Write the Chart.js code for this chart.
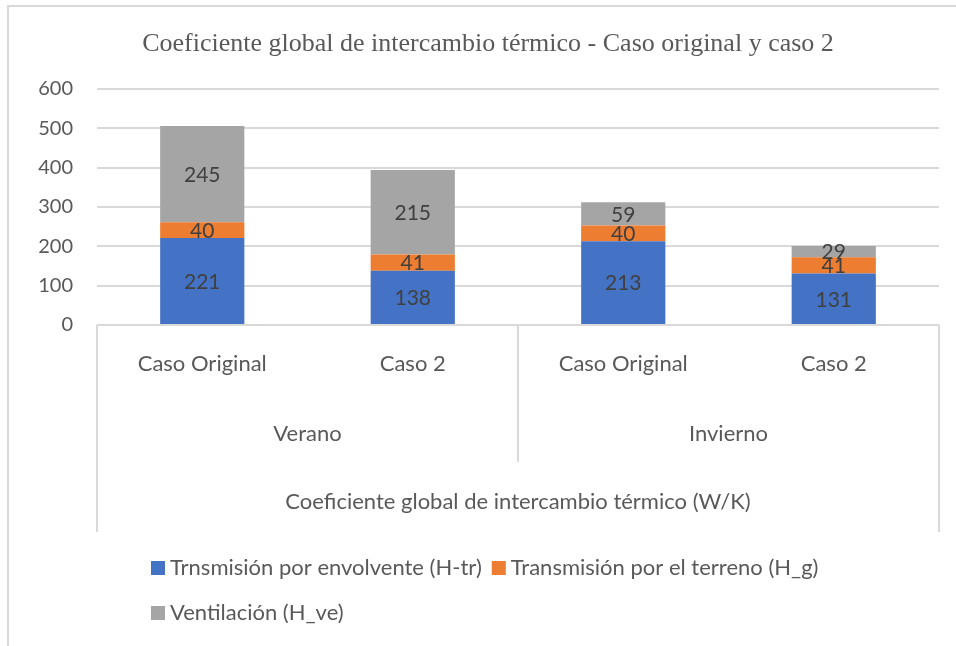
<!DOCTYPE html>
<html>
<head>
<meta charset="utf-8">
<script src="https://cdn.jsdelivr.net/npm/chart.js@4"></script>
<style>
  html, body { margin: 0; padding: 0; background: #fff; }
  #wrap { width: 956px; height: 646px; position: relative; }
</style>
</head>
<body>
<div id="wrap"><canvas id="grafico"></canvas></div>
<script>
// Datos del gráfico
const casos = ['Caso Original', 'Caso 2', 'Caso Original', 'Caso 2'];
const estaciones = ['Verano', 'Invierno'];
const envolvente = [221, 138, 213, 131];
const terreno = [40, 41, 40, 41];
const ventilacion = [245, 215, 59, 29];
const ticksY = [0, 100, 200, 300, 400, 500, 600];

const FUENTE = 'Lato, "Open Sans", sans-serif';
const GRIS_TEXTO = '#595959';
const GRIS_LINEA = '#d9d9d9';

// Marco, títulos, grupos y leyenda al estilo Excel
const decoracionExcel = {
  id: 'decoracionExcel',
  beforeDraw(chart) {
    const ctx = chart.ctx;
    ctx.save();
    ctx.fillStyle = '#fff';
    ctx.fillRect(0, 0, chart.width, chart.height);
    // borde exterior
    ctx.strokeStyle = GRIS_LINEA;
    ctx.lineWidth = 2;
    ctx.beginPath();
    ctx.moveTo(8, chart.height);
    ctx.lineTo(8, 6);
    ctx.lineTo(chart.width, 6);
    ctx.stroke();
    ctx.restore();
  },
  afterDraw(chart) {
    const ctx = chart.ctx;
    const area = chart.chartArea;
    const x = chart.scales.x;
    ctx.save();

    // título
    ctx.fillStyle = GRIS_TEXTO;
    ctx.font = '26px "Liberation Serif", "Times New Roman", serif';
    ctx.textAlign = 'center';
    ctx.textBaseline = 'middle';
    ctx.fillText('Coeficiente global de intercambio térmico - Caso original y caso 2', 488, 44);

    // marco del eje de categorías
    ctx.strokeStyle = GRIS_LINEA;
    ctx.lineWidth = 2;
    ctx.beginPath();
    ctx.moveTo(area.left, area.bottom);
    ctx.lineTo(area.right, area.bottom);
    ctx.moveTo(area.left, area.bottom);
    ctx.lineTo(area.left, 532);
    ctx.moveTo(area.right, area.bottom);
    ctx.lineTo(area.right, 532);
    const medio = (x.getPixelForValue(1) + x.getPixelForValue(2)) / 2;
    ctx.moveTo(medio, area.bottom);
    ctx.lineTo(medio, 462);
    ctx.stroke();

    // etiquetas de grupo
    ctx.fillStyle = GRIS_TEXTO;
    ctx.font = '22px ' + FUENTE;
    estaciones.forEach((est, i) => {
      const cx = (x.getPixelForValue(i * 2) + x.getPixelForValue(i * 2 + 1)) / 2;
      ctx.fillText(est, cx, 434);
    });

    // título del eje
    ctx.fillText('Coeficiente global de intercambio térmico (W/K)', (area.left + area.right) / 2, 502);

    // leyenda
    const ds = chart.data.datasets;
    const filas = [[0, 1], [2]];
    ctx.textAlign = 'left';
    filas.forEach((fila, r) => {
      let lx = 151;
      const ly = 568 + r * 45;
      fila.forEach(i => {
        ctx.fillStyle = ds[i].backgroundColor;
        ctx.fillRect(lx, ly - 7, 14, 14);
        ctx.fillStyle = GRIS_TEXTO;
        ctx.fillText(ds[i].label, lx + 19, ly);
        lx += 19 + ctx.measureText(ds[i].label).width + 10;
      });
    });

    // etiquetas de datos
    ctx.textAlign = 'center';
    ctx.fillStyle = '#404040';
    ctx.font = '21px ' + FUENTE;
    chart.data.datasets.forEach((d, i) => {
      chart.getDatasetMeta(i).data.forEach((bar, j) => {
        const centro = (bar.y + bar.base) / 2;
        ctx.fillText(String(d.data[j]), bar.x, centro + 1);
      });
    });
    ctx.restore();
  }
};

new Chart(document.getElementById('grafico'), {
  type: 'bar',
  data: {
    labels: casos,
    datasets: [
      { label: 'Trnsmisión por envolvente (H-tr)', data: envolvente, backgroundColor: '#4472C4' },
      { label: 'Transmisión por el terreno (H_g)', data: terreno, backgroundColor: '#ED7D31' },
      { label: 'Ventilación (H_ve)', data: ventilacion, backgroundColor: '#A5A5A5' }
    ]
  },
  options: {
    responsive: true,
    maintainAspectRatio: false,
    animation: false,
    layout: { padding: { left: 0, right: 17, top: 89, bottom: 0 } },
    datasets: { bar: { barPercentage: 0.4, categoryPercentage: 1, borderWidth: 0 } },
    plugins: {
      legend: { display: false },
      title: { display: false },
      tooltip: { enabled: false }
    },
    scales: {
      x: {
        stacked: true,
        grid: { display: false, drawTicks: false },
        border: { display: false },
        ticks: { color: GRIS_TEXTO, font: { family: FUENTE, size: 22 }, padding: 26, maxRotation: 0 },
        afterFit(scale) { scale.height = 646 - 325; }
      },
      y: {
        stacked: true,
        min: ticksY[0],
        max: ticksY[ticksY.length - 1],
        afterBuildTicks(scale) { scale.ticks = ticksY.map(v => ({ value: v })); },
        grid: { color: GRIS_LINEA, lineWidth: 2, drawTicks: false },
        border: { display: false },
        ticks: { color: GRIS_TEXTO, font: { family: FUENTE, size: 20 }, padding: 24 },
        afterFit(scale) { scale.width = 97; }
      }
    }
  },
  plugins: [decoracionExcel]
});
</script>
</body>
</html>
